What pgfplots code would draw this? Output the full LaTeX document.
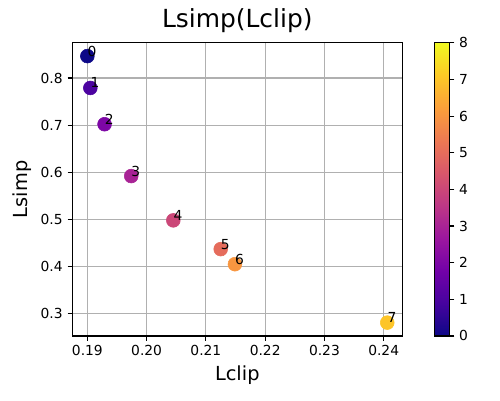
\documentclass[border=0pt]{standalone}
\usepackage{pgfplots}
\usepackage{pgfplotstable}
\pgfplotsset{compat=1.18}
\usepackage{fontspec}
\setmainfont{DejaVu Sans}
\definecolor{gridgray}{HTML}{B0B0B0}

\pgfplotsset{
  colormap={plasma}{
    HTML(0cm)=(0D0887) HTML(1cm)=(46039F) HTML(2cm)=(7201A8)
    HTML(3cm)=(9C179E) HTML(4cm)=(BD3786) HTML(5cm)=(D8576B)
    HTML(6cm)=(ED7953) HTML(7cm)=(FB9F3A) HTML(8cm)=(FDCA26)
    HTML(9cm)=(F0F921)
  },
}

\pgfplotstableread{
x       y      c
0.1900  0.8466 0
0.1905  0.779  1
0.1929  0.702  2
0.1974  0.592  3
0.2045  0.498  4
0.2125  0.437  5
0.2149  0.405  6
0.2406  0.281  7
}\pts

\begin{document}
\begin{tikzpicture}
  \useasboundingbox (-52.3pt,-46.3pt) rectangle (309.05pt,242.8pt);
  \begin{axis}[
    at={(0,0)}, anchor=south west,
    scale only axis,
    width=238.4pt, height=211.9pt,
    xmin=0.18747, xmax=0.24313,
    ymin=0.2527, ymax=0.8749,
    xtick={0.19,0.20,0.21,0.22,0.23,0.24},
    ytick={0.3,0.4,0.5,0.6,0.7,0.8},
    /pgf/number format/assume math mode=true,
    xticklabels={0.19,0.20,0.21,0.22,0.23,0.24},
    yticklabels={0.3,0.4,0.5,0.6,0.7,0.8},
    ticklabel style={font=\fontsize{10}{12}\selectfont},
    tick align=outside,
    major tick length=3.5pt,
    tick style={black, line width=0.8pt},
    xtick pos=bottom, ytick pos=left,
    axis line style={line width=0.8pt},
    axis on top,
    grid=major,
    grid style={gridgray, line width=0.8pt},
    title={Lsimp(Lclip)},
    title style={font=\fontsize{18}{21}\selectfont, yshift=-2pt},
    xlabel={Lclip},
    ylabel={Lsimp},
    label style={font=\fontsize{14}{17}\selectfont},
    colormap name=plasma,
    point meta min=0, point meta max=8,
    colorbar,
    colorbar style={
      at={(parent axis.north east)}, anchor=north west,
      xshift=14.8pt,
      width=10.8pt,
      ytick={0,1,...,8},
      yticklabels={0,1,2,3,4,5,6,7,8},
      yticklabel style={font=\fontsize{10}{12}\selectfont},
      ytick pos=right,
      tick align=outside,
      major tick length=3.5pt,
      tick style={black, line width=0.8pt},
      axis line style={line width=0.8pt},
    },
  ]
    \addplot[scatter, only marks, mark=*, mark size=5pt,
      point meta=explicit,
      scatter/use mapped color={draw=mapped color, fill=mapped color}]
      table[x=x, y=y, meta=c] {\pts};
    \addplot[only marks, mark=none, point meta=explicit symbolic,
      nodes near coords,
      nodes near coords style={anchor=base west, inner sep=0pt,
        font=\fontsize{10}{12}\selectfont, black}]
      table[x=x, y=y, meta=c] {\pts};
  \end{axis}
\end{tikzpicture}
\end{document}
